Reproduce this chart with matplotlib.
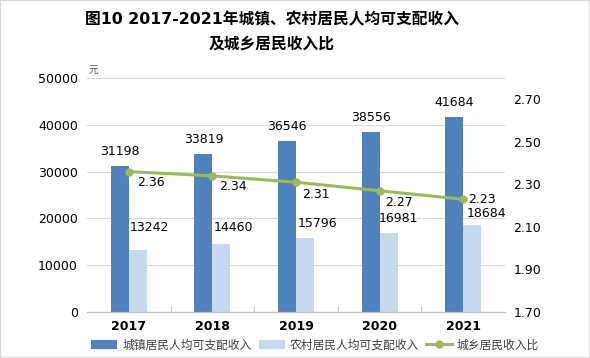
import numpy as np
import matplotlib.pyplot as plt
from matplotlib.patches import Rectangle

plt.rcParams['font.family'] = ['DejaVu Sans', 'Noto Sans CJK SC']

years = ['2017', '2018', '2019', '2020', '2021']
urban = [31198, 33819, 36546, 38556, 41684]
rural = [13242, 14460, 15796, 16981, 18684]
ratio = [2.36, 2.34, 2.31, 2.27, 2.23]

# label offsets in pixels (hand placed in the original)
rural_off = [(12, 23), (12, 17), (12, 15), (10, 14), (14, 11)]
ratio_off = [(22, -11), (21, -11), (20, -12), (19, -12), (19, 0)]

c_urban = '#4F81BD'
c_rural = '#C6D9F0'
c_ratio = '#9BBB59'

fig = plt.figure(figsize=(5.9, 3.58), dpi=100)
ax = fig.add_axes([0.1475, 0.1285, 0.7085, 0.6536])
ax2 = ax.twinx()

x = np.arange(len(years))
w = 0.215
b1 = ax.bar(x - w / 2, urban, w, color=c_urban, label='城镇居民人均可支配收入', zorder=2)
b2 = ax.bar(x + w / 2, rural, w, color=c_rural, label='农村居民人均可支配收入', zorder=2)
l1, = ax2.plot(x, ratio, color=c_ratio, lw=2.2, marker='o', ms=5, label='城乡居民收入比')

ax.set_ylim(0, 50000)
ax.set_yticks(np.arange(0, 50001, 10000))
ax.set_xlim(-0.5, len(years) - 0.5)
ax.set_xticks(x)
ax.set_xticklabels(years, fontsize=9, fontweight='bold')
ax.set_xticks(np.arange(0.5, len(years) - 1, 1), minor=True)
ax.tick_params(axis='x', which='major', length=0, pad=6)
ax.tick_params(axis='x', which='minor', length=4, direction='in', color='#BFBFBF')
ax.tick_params(axis='y', length=0, labelsize=9, pad=6.5)
ax.grid(axis='y', color='#D9D9D9', lw=0.8, zorder=0)
ax.set_axisbelow(True)

ax2.set_ylim(1.7, 2.8)
ax2.set_yticks(np.arange(1.7, 2.71, 0.2))
ax2.set_yticklabels(['%.2f' % v for v in np.arange(1.7, 2.71, 0.2)])
ax2.tick_params(axis='y', length=0, labelsize=9, pad=6)

for a in (ax, ax2):
    for s in ('top', 'left', 'right'):
        a.spines[s].set_visible(False)
    a.spines['bottom'].set_color('#BFBFBF')

for xi, v in zip(x, urban):
    ax.annotate(str(v), (xi - w / 2, v), xytext=(0, 8), textcoords='offset pixels',
                ha='center', va='bottom', fontsize=9)
for xi, v, off in zip(x, rural, rural_off):
    ax.annotate(str(v), (xi + w / 2, v), xytext=off, textcoords='offset pixels',
                ha='center', va='center', fontsize=9)
for xi, v, off in zip(x, ratio, ratio_off):
    ax2.annotate('%.2f' % v, (xi, v), xytext=off, textcoords='offset pixels',
                 ha='center', va='center', fontsize=9)

ax.text(0.003, 1.015, '元', transform=ax.transAxes, fontsize=7, color='#595959',
        ha='left', va='bottom')

fig.text(272 / 590, 1 - 20 / 358, '图10 2017-2021年城镇、农村居民人均可支配收入',
         ha='center', va='center', fontsize=11.3, fontweight='bold')
fig.text(272 / 590, 1 - 44 / 358, '及城乡居民收入比',
         ha='center', va='center', fontsize=11.3, fontweight='bold')

fig.legend([b1, b2, l1], [b1.get_label(), b2.get_label(), l1.get_label()],
           loc='center', bbox_to_anchor=(315 / 590, 1 - 345 / 358), ncol=3,
           frameon=False, fontsize=8.5, handlelength=2.2, handletextpad=0.4,
           columnspacing=0.6, labelcolor='#404040')

fig.patches.append(Rectangle((0, 0), 1, 1, transform=fig.transFigure, fill=False,
                             edgecolor='#D9D9D9', lw=1.5))

fig.savefig('out.png', dpi=100)
